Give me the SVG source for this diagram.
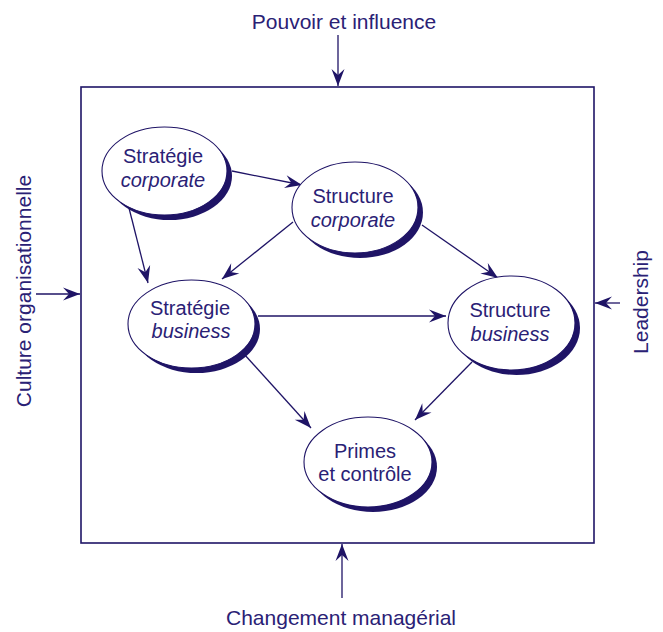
<svg xmlns="http://www.w3.org/2000/svg" width="663" height="632" viewBox="0 0 663 632">
  <defs>
    <marker id="arrow" markerUnits="userSpaceOnUse" markerWidth="20" markerHeight="14" refX="0" refY="0" viewBox="-18 -7 20 14" orient="auto">
      <path d="M0,0 L-17,-6.5 L-11,0 L-17,6.5 Z" fill="#1f1466"/>
    </marker>
  </defs>
  <style>
    .frame { fill: none; stroke: #1f1466; stroke-width: 1.6; }
    .shadow { fill: #1f1466; }
    .bubble { fill: #ffffff; stroke: #1f1466; stroke-width: 1.1; }
    .edge { fill: none; stroke: #1f1466; stroke-width: 1.3; marker-end: url(#arrow); }
    text { font-family: "Liberation Sans", Arial, sans-serif; fill: #2a2175; text-anchor: middle; }
    .node { font-size: 20px; }
    .outer { font-size: 21px; }
    .it { font-style: italic; }
  </style>

  <!-- context box -->
  <rect class="frame" x="81" y="87" width="513" height="456"/>

  <!-- outside influences -->
  <g id="pouvoir">
    <text class="outer" x="344" y="29">Pouvoir et influence</text>
  </g>
  <g id="changement">
    <text class="outer" x="341" y="625">Changement managérial</text>
  </g>
  <g id="culture">
    <text class="outer" transform="translate(31,291) rotate(-90)" x="0" y="0">Culture organisationnelle</text>
  </g>
  <g id="leadership">
    <text class="outer" transform="translate(648,302) rotate(-90)" x="0" y="0">Leadership</text>
  </g>

  <!-- connectors -->
  <g id="connectors">
    <line class="edge" x1="338" y1="35" x2="338" y2="86"/>
    <line class="edge" x1="342" y1="598" x2="342" y2="544"/>
    <line class="edge" x1="36" y1="294" x2="80" y2="294"/>
    <line class="edge" x1="620" y1="303" x2="595" y2="303"/>

    <line class="edge" x1="232" y1="171" x2="302" y2="185"/>
    <line class="edge" x1="129" y1="208" x2="148" y2="283"/>
    <line class="edge" x1="293" y1="222" x2="222" y2="279"/>
    <line class="edge" x1="422" y1="225" x2="498" y2="278"/>
    <line class="edge" x1="258" y1="316" x2="446" y2="316"/>
    <line class="edge" x1="244" y1="354" x2="311" y2="428"/>
    <line class="edge" x1="472" y1="362" x2="415" y2="420"/>
  </g>

  <!-- nodes -->
  <g id="strategie-corporate">
    <ellipse class="shadow" cx="169.5" cy="176" rx="62.5" ry="44"/>
    <ellipse class="bubble" cx="164.5" cy="171" rx="62.5" ry="44"/>
    <text class="node" x="163" y="163">Stratégie</text>
    <text class="node it" x="163" y="187">corporate</text>
  </g>
  <g id="structure-corporate">
    <ellipse class="shadow" cx="360" cy="212.5" rx="63" ry="45.5"/>
    <ellipse class="bubble" cx="355" cy="207.5" rx="63" ry="45.5"/>
    <text class="node" x="353" y="203">Structure</text>
    <text class="node it" x="353" y="227">corporate</text>
  </g>
  <g id="strategie-business">
    <ellipse class="shadow" cx="196.5" cy="329" rx="63.5" ry="44"/>
    <ellipse class="bubble" cx="191.5" cy="324" rx="63.5" ry="44"/>
    <text class="node" x="190" y="315">Stratégie</text>
    <text class="node it" x="191" y="338">business</text>
  </g>
  <g id="structure-business">
    <ellipse class="shadow" cx="516.5" cy="328" rx="63.5" ry="47"/>
    <ellipse class="bubble" cx="511.5" cy="323" rx="63.5" ry="47"/>
    <text class="node" x="510" y="317">Structure</text>
    <text class="node it" x="510" y="341">business</text>
  </g>
  <g id="primes-controle">
    <ellipse class="shadow" cx="373" cy="467" rx="64" ry="45"/>
    <ellipse class="bubble" cx="368" cy="462" rx="64" ry="45"/>
    <text class="node" x="365" y="458">Primes</text>
    <text class="node" x="365" y="481">et contrôle</text>
  </g>
</svg>
